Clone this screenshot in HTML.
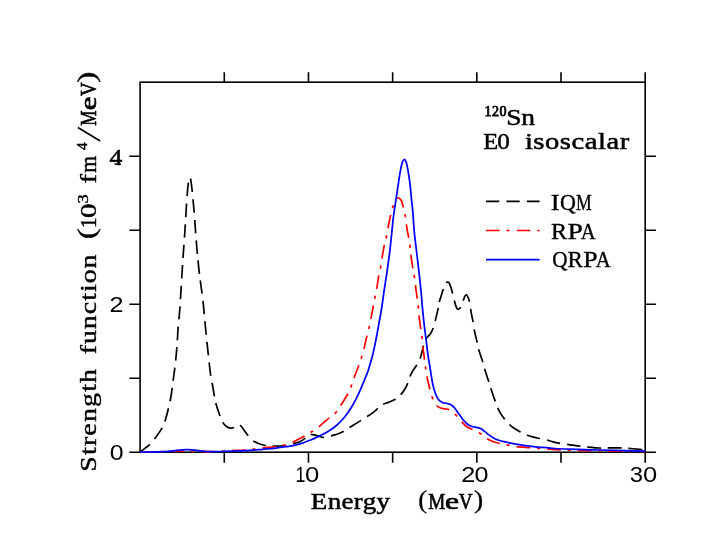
<!DOCTYPE html>
<html><head><meta charset="utf-8"><title>120Sn E0 isoscalar strength function</title>
<style>
html,body{margin:0;padding:0;background:#fff;}
body{width:715px;height:553px;overflow:hidden;}
svg{display:block;will-change:transform;}
text{font-family:"Liberation Serif",serif;fill:#000;white-space:pre;}
</style></head>
<body>
<svg width="715" height="553" viewBox="0 0 715 553">
<rect x="0" y="0" width="715" height="553" fill="#fff"/>
<rect x="140.1" y="82.2" width="505.10" height="370.00" fill="none" stroke="#000" stroke-width="1.6"/>
<path d="M224.28 82.2 v-10.0 M224.28 452.2 v10.5 M308.47 82.2 v-10.0 M308.47 452.2 v10.5 M392.65 82.2 v-10.0 M392.65 452.2 v10.5 M476.83 82.2 v-10.0 M476.83 452.2 v10.5 M561.02 82.2 v-10.0 M561.02 452.2 v10.5 M645.20 82.2 v-10.0 M645.20 452.2 v10.5 M140.1 452.20 h-10.7 M645.2 452.20 h10.7 M140.1 378.20 h-10.7 M645.2 378.20 h10.7 M140.1 304.20 h-10.7 M645.2 304.20 h10.7 M140.1 230.20 h-10.7 M645.2 230.20 h10.7 M140.1 156.20 h-10.7 M645.2 156.20 h10.7" fill="none" stroke="#000" stroke-width="1.6"/>
<path d="M140.20 451.80C141.83 450.55 147.37 446.77 150.00 444.30C152.63 441.83 154.00 439.68 156.00 437.00C158.00 434.32 160.42 431.13 162.00 428.20C163.58 425.27 164.40 422.82 165.50 419.40C166.60 415.98 167.65 411.77 168.60 407.70C169.55 403.63 170.40 399.87 171.20 395.00C172.00 390.13 172.72 383.67 173.40 378.50C174.08 373.33 174.72 369.27 175.30 364.00C175.88 358.73 176.42 353.13 176.90 346.90C177.38 340.67 177.75 332.42 178.20 326.60C178.65 320.78 179.13 318.10 179.60 312.00C180.07 305.90 180.52 297.67 181.00 290.00C181.48 282.33 182.02 273.50 182.50 266.00C182.98 258.50 183.43 251.83 183.90 245.00C184.37 238.17 184.87 231.77 185.30 225.00C185.73 218.23 186.12 210.23 186.50 204.40C186.88 198.57 187.25 193.90 187.60 190.00C187.95 186.10 188.27 183.12 188.60 181.00C188.93 178.88 189.27 177.63 189.60 177.30C189.93 176.97 190.27 177.55 190.60 179.00C190.93 180.45 191.27 183.33 191.60 186.00C191.93 188.67 192.17 190.50 192.60 195.00C193.03 199.50 193.75 207.50 194.20 213.00C194.65 218.50 194.90 222.67 195.30 228.00C195.70 233.33 196.15 239.60 196.60 245.00C197.05 250.40 197.53 255.62 198.00 260.40C198.47 265.18 198.90 269.43 199.40 273.70C199.90 277.97 200.42 281.60 201.00 286.00C201.58 290.40 202.32 294.93 202.90 300.10C203.48 305.27 203.95 311.18 204.50 317.00C205.05 322.82 205.67 329.67 206.20 335.00C206.73 340.33 207.20 344.33 207.70 349.00C208.20 353.67 208.68 358.47 209.20 363.00C209.72 367.53 210.28 372.70 210.80 376.20C211.32 379.70 211.72 380.77 212.30 384.00C212.88 387.23 213.65 392.18 214.30 395.60C214.95 399.02 215.38 401.47 216.20 404.50C217.02 407.53 218.15 410.88 219.20 413.80C220.25 416.72 221.28 419.88 222.50 422.00C223.72 424.12 225.17 425.48 226.50 426.50C227.83 427.52 229.33 427.93 230.50 428.10C231.67 428.27 232.53 427.92 233.50 427.50C234.47 427.08 235.47 426.05 236.30 425.60C237.13 425.15 237.80 424.80 238.50 424.80C239.20 424.80 239.85 425.10 240.50 425.60C241.15 426.10 241.65 426.82 242.40 427.80C243.15 428.78 244.07 430.22 245.00 431.50C245.93 432.78 246.68 433.98 248.00 435.50C249.32 437.02 251.03 439.22 252.90 440.60C254.77 441.98 257.10 442.98 259.20 443.80C261.30 444.62 263.37 445.13 265.50 445.50C267.63 445.87 269.80 445.92 272.00 446.00C274.20 446.08 276.53 446.05 278.70 446.00C280.87 445.95 282.67 446.07 285.00 445.70C287.33 445.33 290.25 444.47 292.70 443.80C295.15 443.13 297.72 442.55 299.70 441.70C301.68 440.85 303.30 439.73 304.60 438.70C305.90 437.67 306.65 436.23 307.50 435.50C308.35 434.77 308.62 434.42 309.70 434.30C310.78 434.18 312.45 434.47 314.00 434.80C315.55 435.13 317.38 435.88 319.00 436.30C320.62 436.72 321.75 437.37 323.70 437.30C325.65 437.23 328.48 436.40 330.70 435.90C332.92 435.40 334.90 435.03 337.00 434.30C339.10 433.57 341.22 432.62 343.30 431.50C345.38 430.38 347.53 428.83 349.50 427.60C351.47 426.37 353.23 425.27 355.10 424.10C356.97 422.93 358.83 421.77 360.70 420.60C362.57 419.43 364.32 418.38 366.30 417.10C368.28 415.82 370.73 414.30 372.60 412.90C374.47 411.50 375.85 410.08 377.50 408.70C379.15 407.32 380.58 405.70 382.50 404.60C384.42 403.50 386.87 402.98 389.00 402.10C391.13 401.22 393.38 400.48 395.30 399.30C397.22 398.12 398.87 396.77 400.50 395.00C402.13 393.23 403.87 390.72 405.10 388.70C406.33 386.68 407.15 384.78 407.90 382.90C408.65 381.02 408.83 379.32 409.60 377.40C410.37 375.48 411.42 373.30 412.50 371.40C413.58 369.50 414.88 368.00 416.10 366.00C417.32 364.00 418.83 361.67 419.80 359.40C420.77 357.13 421.32 354.55 421.90 352.40C422.48 350.25 422.68 348.72 423.30 346.50C423.92 344.28 424.43 341.20 425.60 339.10C426.77 337.00 429.08 335.62 430.30 333.90C431.52 332.18 432.12 330.82 432.90 328.80C433.68 326.78 434.37 324.12 435.00 321.80C435.63 319.48 436.18 317.10 436.70 314.90C437.22 312.70 437.67 310.75 438.10 308.60C438.53 306.45 438.77 304.18 439.30 302.00C439.83 299.82 440.63 297.67 441.30 295.50C441.97 293.33 442.72 290.75 443.30 289.00C443.88 287.25 444.32 286.03 444.80 285.00C445.28 283.97 445.77 283.27 446.20 282.80C446.63 282.33 447.00 282.27 447.40 282.20C447.80 282.13 448.20 282.05 448.60 282.40C449.00 282.75 449.35 283.27 449.80 284.30C450.25 285.33 450.85 287.10 451.30 288.60C451.75 290.10 452.02 291.42 452.50 293.30C452.98 295.18 453.68 297.90 454.20 299.90C454.72 301.90 455.17 303.92 455.60 305.30C456.03 306.68 456.37 307.53 456.80 308.20C457.23 308.87 457.73 309.23 458.20 309.30C458.67 309.37 459.18 308.97 459.60 308.60C460.02 308.23 460.30 307.87 460.70 307.10C461.10 306.33 461.55 305.15 462.00 304.00C462.45 302.85 462.90 301.55 463.40 300.20C463.90 298.85 464.48 296.80 465.00 295.90C465.52 295.00 466.02 294.62 466.50 294.80C466.98 294.98 467.42 295.92 467.90 297.00C468.38 298.08 468.97 299.42 469.40 301.30C469.83 303.18 470.13 306.03 470.50 308.30C470.87 310.57 471.18 312.72 471.60 314.90C472.02 317.08 472.60 319.15 473.00 321.40C473.40 323.65 473.60 326.12 474.00 328.40C474.40 330.68 474.92 332.95 475.40 335.10C475.88 337.25 476.42 339.10 476.90 341.30C477.38 343.50 477.37 344.97 478.30 348.30C479.23 351.63 481.50 358.03 482.50 361.30C483.50 364.57 483.30 364.63 484.30 367.90C485.30 371.17 487.45 377.58 488.50 380.90C489.55 384.22 489.55 384.60 490.60 387.80C491.65 391.00 493.68 396.95 494.80 400.10C495.92 403.25 496.37 404.53 497.30 406.70C498.23 408.87 499.23 411.10 500.40 413.10C501.57 415.10 502.95 416.95 504.30 418.70C505.65 420.45 506.93 422.05 508.50 423.60C510.07 425.15 511.78 426.65 513.70 428.00C515.62 429.35 517.90 430.57 520.00 431.70C522.10 432.83 524.20 433.93 526.30 434.80C528.40 435.67 530.52 436.32 532.60 436.90C534.68 437.48 536.60 437.83 538.80 438.30C541.00 438.77 543.58 439.17 545.80 439.70C548.02 440.23 549.93 440.93 552.10 441.50C554.27 442.07 556.57 442.68 558.80 443.10C561.03 443.52 563.23 443.65 565.50 444.00C567.77 444.35 570.17 444.87 572.40 445.20C574.63 445.53 576.53 445.72 578.90 446.00C581.27 446.28 583.22 446.57 586.60 446.90C589.98 447.23 595.82 447.83 599.20 448.00C602.58 448.17 603.53 447.92 606.90 447.90C610.27 447.88 616.03 447.83 619.40 447.90C622.77 447.97 623.72 448.07 627.10 448.30C630.48 448.53 636.68 449.02 639.70 449.30C642.72 449.58 644.28 449.88 645.20 450.00" fill="none" stroke="#000" stroke-width="1.7" stroke-dasharray="12.29 7.07 13.5 7.12 13.5 7.2 13.5 7.01 13.5 7.13 13.5 6.96 13.5 7.17 13.5 6.87 13.5 7.13 13.5 6.91 13.5 7.11 13.5 7.08 13.5 7.44 13.5 7.36 13.5 7.31 13.5 7.18 13.5 6.96 13.5 6.66 13.5 6.76 13.5 7.08 13.5 7.01 13.5 7.18 13.5 7.2 13.5 7.25 13.5 6.91 13.5 6.99 13.5 6.81 13.5 7.01 13.5 6.91 13.5 7.14 13.5 7.17 13.5 7.1 13.5 7.01 13.5 7.08 13.5 6.84 13.5 6.84 13.5 7.11 13.5 7.03 13.5 7.02 13.5 7.15 13.5 5.79 13.7 6.84 14.6 6.95 13.5 6.81 14.8 7.26 13.5 7.17 13.5 7.06 13.5 6.94 13.5 6.94 13.5 7.1 13.5 7.03 13.5 6.99 13.5 7.14 13.5 7.13 13.5 6.94 13.5 7.07 13.5 7.19 13.5 1000" stroke-linejoin="round"/>
<path d="M140.20 452.00C144.33 451.93 157.20 451.73 165.00 451.60C172.80 451.47 179.50 451.20 187.00 451.20C194.50 451.20 202.67 451.70 210.00 451.60C217.33 451.50 225.33 450.87 231.00 450.60C236.67 450.33 240.17 450.23 244.00 450.00C247.83 449.77 250.87 449.53 254.00 449.20C257.13 448.87 259.23 448.42 262.80 448.00C266.37 447.58 271.93 447.13 275.40 446.70C278.87 446.27 280.67 446.18 283.60 445.40C286.53 444.62 289.65 443.50 293.00 442.00C296.35 440.50 300.78 437.98 303.70 436.40C306.62 434.82 307.98 434.08 310.50 432.50C313.02 430.92 315.67 429.35 318.80 426.90C321.93 424.45 326.50 420.13 329.30 417.80C332.10 415.47 333.73 414.88 335.60 412.90C337.47 410.92 338.42 409.17 340.50 405.90C342.58 402.63 346.28 396.68 348.10 393.30C349.92 389.92 350.40 388.20 351.40 385.60C352.40 383.00 352.83 381.12 354.10 377.70C355.37 374.28 357.77 368.48 359.00 365.10C360.23 361.72 360.68 360.07 361.50 357.40C362.32 354.73 362.97 352.82 363.90 349.10C364.83 345.38 366.23 338.72 367.10 335.10C367.97 331.48 368.47 330.08 369.10 327.40C369.73 324.72 370.20 322.57 370.90 319.00C371.60 315.43 372.63 309.53 373.30 306.00C373.97 302.47 374.33 300.68 374.90 297.80C375.47 294.92 376.05 292.42 376.70 288.70C377.35 284.98 378.15 279.10 378.80 275.50C379.45 271.90 380.08 269.90 380.60 267.10C381.12 264.30 381.22 262.67 381.90 258.70C382.58 254.73 383.93 247.03 384.70 243.30C385.47 239.57 385.95 238.85 386.50 236.30C387.05 233.75 387.33 231.43 388.00 228.00C388.67 224.57 389.68 219.25 390.50 215.70C391.32 212.15 391.95 209.48 392.90 206.70C393.85 203.92 395.28 200.45 396.20 199.00C397.12 197.55 397.55 197.75 398.40 198.00C399.25 198.25 400.45 198.88 401.30 200.50C402.15 202.12 402.85 205.17 403.50 207.70C404.15 210.23 404.72 212.92 405.20 215.70C405.68 218.48 406.03 221.85 406.40 224.40C406.77 226.95 407.00 228.67 407.40 231.00C407.80 233.33 408.37 235.77 408.80 238.40C409.23 241.03 409.65 244.00 410.00 246.80C410.35 249.60 410.40 251.47 410.90 255.20C411.40 258.93 412.42 265.58 413.00 269.20C413.58 272.82 414.00 274.23 414.40 276.90C414.80 279.57 414.93 281.60 415.40 285.20C415.87 288.80 416.73 295.00 417.20 298.50C417.67 302.00 417.93 303.48 418.20 306.20C418.47 308.92 418.30 310.57 418.80 314.80C419.30 319.03 420.63 327.68 421.20 331.60C421.77 335.52 421.97 335.97 422.20 338.30C422.43 340.63 422.18 341.83 422.60 345.60C423.02 349.37 424.17 356.95 424.70 360.90C425.23 364.85 425.45 366.73 425.80 369.30C426.15 371.87 426.28 373.68 426.80 376.30C427.32 378.92 428.37 382.72 428.90 385.00C429.43 387.28 429.38 387.77 430.00 390.00C430.62 392.23 431.47 395.78 432.60 398.40C433.73 401.02 435.45 404.10 436.80 405.70C438.15 407.30 439.30 407.48 440.70 408.00C442.10 408.52 443.75 408.48 445.20 408.80C446.65 409.12 447.58 408.82 449.40 409.90C451.22 410.98 454.10 413.38 456.10 415.30C458.10 417.22 459.67 419.53 461.40 421.40C463.13 423.27 464.63 425.13 466.50 426.50C468.37 427.87 470.27 428.40 472.60 429.60C474.93 430.80 478.07 432.17 480.50 433.70C482.93 435.23 485.12 437.50 487.20 438.80C489.28 440.10 490.95 440.72 493.00 441.50C495.05 442.28 497.00 442.88 499.50 443.50C502.00 444.12 505.17 444.68 508.00 445.20C510.83 445.72 512.87 446.20 516.50 446.60C520.13 447.00 526.08 447.32 529.80 447.60C533.52 447.88 536.02 448.07 538.80 448.30C541.58 448.53 542.88 448.73 546.50 449.00C550.12 449.27 553.25 449.63 560.50 449.90C567.75 450.17 575.88 450.32 590.00 450.60C604.12 450.88 636.00 451.43 645.20 451.60" fill="none" stroke="#f00" stroke-width="1.7" stroke-dasharray="12.95 6.9 3.2 7.05 13.6 6.9 3.2 7.05 13.6 6.9 3.2 7.05 13.6 6.9 3.2 7.05 13.6 6.9 3.2 7.05 13.6 6.9 3.2 7.11 13.6 6.9 3.2 6.99 13.6 6.9 3.2 6.9 13.6 6.9 3.2 7.08 13.6 6.9 3.2 7.09 13.6 6.9 3.2 6.96 13.6 6.9 3.2 7.14 13.6 6.9 3.2 7.12 13.6 6.9 3.2 7.12 13.6 6.9 3.2 7.09 13.6 6.9 3.2 6.96 13.6 6.9 3.2 7.01 13.6 6.9 3.2 6.97 13.6 6.9 3.2 7 13.6 6.9 3.2 6.99 13.6 6.9 3.2 7.31 13.6 6.9 3.2 7.2 13.6 6.9 3.2 7.02 13.6 6.9 3.2 7 13.6 6.9 3.2 7.12 13.6 6.9 3.2 7.05 13.6 6.9 3.2 7.05 13.6 6.9 3.2 7.05 5.97 1000" stroke-linejoin="round"/>
<path d="M140.20 452.20C144.17 452.12 158.17 451.95 164.00 451.70C169.83 451.45 172.17 451.02 175.20 450.70C178.23 450.38 180.23 450.00 182.20 449.80C184.17 449.60 185.37 449.50 187.00 449.50C188.63 449.50 190.00 449.60 192.00 449.80C194.00 450.00 196.22 450.40 199.00 450.70C201.78 451.00 205.20 451.47 208.70 451.60C212.20 451.73 215.45 451.60 220.00 451.50C224.55 451.40 231.00 451.18 236.00 451.00C241.00 450.82 245.53 450.68 250.00 450.40C254.47 450.12 258.47 449.68 262.80 449.30C267.13 448.92 271.80 448.58 276.00 448.10C280.20 447.62 284.78 446.88 288.00 446.40C291.22 445.92 292.88 445.73 295.30 445.20C297.72 444.67 300.08 444.02 302.50 443.20C304.92 442.38 307.63 441.18 309.80 440.30C311.97 439.42 313.30 438.90 315.50 437.90C317.70 436.90 320.58 435.57 323.00 434.30C325.42 433.03 327.67 431.85 330.00 430.30C332.33 428.75 334.67 427.08 337.00 425.00C339.33 422.92 341.67 420.63 344.00 417.80C346.33 414.97 348.92 411.27 351.00 408.00C353.08 404.73 354.88 401.35 356.50 398.20C358.12 395.05 359.45 391.97 360.70 389.10C361.95 386.23 362.77 384.07 364.00 381.00C365.23 377.93 366.67 374.98 368.10 370.70C369.53 366.42 371.30 360.42 372.60 355.30C373.90 350.18 374.83 345.35 375.90 340.00C376.97 334.65 377.98 328.87 379.00 323.20C380.02 317.53 381.10 311.75 382.00 306.00C382.90 300.25 383.53 294.60 384.40 288.70C385.27 282.80 386.27 277.12 387.20 270.60C388.13 264.08 389.20 256.28 390.00 249.60C390.80 242.92 391.43 235.92 392.00 230.50C392.57 225.08 392.82 221.73 393.40 217.10C393.98 212.47 394.78 207.52 395.50 202.70C396.22 197.88 396.97 193.03 397.70 188.20C398.43 183.37 399.18 177.80 399.90 173.70C400.62 169.60 401.28 165.97 402.00 163.60C402.72 161.23 403.47 159.62 404.20 159.50C404.93 159.38 405.72 160.77 406.40 162.90C407.08 165.03 407.70 168.82 408.30 172.30C408.90 175.78 409.48 179.47 410.00 183.80C410.52 188.13 410.92 193.47 411.40 198.30C411.88 203.13 412.43 207.35 412.90 212.80C413.37 218.25 413.60 224.63 414.20 231.00C414.80 237.37 415.65 243.70 416.50 251.00C417.35 258.30 418.52 267.82 419.30 274.80C420.08 281.78 420.70 287.70 421.20 292.90C421.70 298.10 421.83 300.95 422.30 306.00C422.77 311.05 423.38 317.70 424.00 323.20C424.62 328.70 425.33 333.65 426.00 339.00C426.67 344.35 427.33 350.55 428.00 355.30C428.67 360.05 429.33 363.38 430.00 367.50C430.67 371.62 431.45 376.83 432.00 380.00C432.55 383.17 432.85 384.62 433.30 386.50C433.75 388.38 434.12 389.58 434.70 391.30C435.28 393.02 435.98 395.23 436.80 396.80C437.62 398.37 438.58 399.72 439.60 400.70C440.62 401.68 441.60 402.23 442.90 402.70C444.20 403.17 446.00 403.13 447.40 403.50C448.80 403.87 450.08 404.15 451.30 404.90C452.52 405.65 453.48 406.55 454.70 408.00C455.92 409.45 457.20 411.65 458.60 413.60C460.00 415.55 461.60 417.93 463.10 419.70C464.60 421.47 466.10 423.07 467.60 424.20C469.10 425.33 470.62 425.97 472.10 426.50C473.58 427.03 475.10 427.07 476.50 427.40C477.90 427.73 479.15 427.83 480.50 428.50C481.85 429.17 483.20 430.33 484.60 431.40C486.00 432.47 487.33 433.77 488.90 434.90C490.47 436.03 492.23 437.27 494.00 438.20C495.77 439.13 497.67 439.90 499.50 440.50C501.33 441.10 502.75 441.28 505.00 441.80C507.25 442.32 509.33 442.92 513.00 443.60C516.67 444.28 522.33 445.28 527.00 445.90C531.67 446.52 536.33 446.87 541.00 447.30C545.67 447.73 550.33 448.18 555.00 448.50C559.67 448.82 564.00 449.00 569.00 449.20C574.00 449.40 579.50 449.57 585.00 449.70C590.50 449.83 595.33 449.85 602.00 450.00C608.67 450.15 617.80 450.40 625.00 450.60C632.20 450.80 641.83 451.10 645.20 451.20" fill="none" stroke="#00f" stroke-width="1.75" stroke-linejoin="round"/>
<path d="M486 201.4 H539.6" fill="none" stroke="#000" stroke-width="1.7" stroke-dasharray="13.3 7.1"/>
<path d="M486 230.5 H539.6" fill="none" stroke="#f00" stroke-width="1.7" stroke-dasharray="13.6 6.9 3.2 7.05"/>
<path d="M486 259.6 H539.6" fill="none" stroke="#00f" stroke-width="1.75"/>
<text transform="translate(524.90 148.8) scale(1.25 1)" style="font-family:&quot;Liberation Serif&quot;,serif;font-weight:normal" font-size="22.9" letter-spacing="0.421" stroke="#000" stroke-width="0.5">isoscalar</text>
<text transform="translate(506.36 124.6) scale(1.2 1)" style="font-family:&quot;Liberation Serif&quot;,serif;font-weight:normal" font-size="22.9" letter-spacing="-0.307" stroke="#000" stroke-width="0.5">Sn</text>
<text transform="translate(484.56 115.8) scale(1.0 1)" style="font-family:&quot;Liberation Serif&quot;,serif;font-weight:normal" font-size="14.1" letter-spacing="0.413" stroke="#000" stroke-width="0.75">120</text>
<text transform="translate(483.19 148.8) scale(1.075 1)" style="font-family:&quot;Liberation Serif&quot;,serif;font-weight:normal" font-size="22.9" stroke="#000" stroke-width="0.45">E</text>
<text transform="translate(497.24 148.8) scale(1.102 1)" style="font-family:&quot;Liberation Serif&quot;,serif;font-weight:normal" font-size="22.9" stroke="#000" stroke-width="0.45">0</text>
<text transform="translate(550.83 209.75) scale(1.168 1)" style="font-family:&quot;Liberation Serif&quot;,serif;font-weight:normal" font-size="22.9" stroke="#000" stroke-width="0.35">I</text>
<text transform="translate(560.00 209.75) scale(0.960 1)" style="font-family:&quot;Liberation Serif&quot;,serif;font-weight:normal" font-size="22.9" stroke="#000" stroke-width="0.35">Q</text>
<text transform="translate(576.09 209.75) scale(0.772 1)" style="font-family:&quot;Liberation Serif&quot;,serif;font-weight:normal" font-size="22.9" stroke="#000" stroke-width="0.35">M</text>
<text transform="translate(551.10 239.1) scale(1.056 1)" style="font-family:&quot;Liberation Serif&quot;,serif;font-weight:normal" font-size="22.9" stroke="#000" stroke-width="0.35">R</text>
<text transform="translate(567.41 239.1) scale(1.201 1)" style="font-family:&quot;Liberation Serif&quot;,serif;font-weight:normal" font-size="22.9" stroke="#000" stroke-width="0.35">P</text>
<text transform="translate(580.70 239.1) scale(0.904 1)" style="font-family:&quot;Liberation Serif&quot;,serif;font-weight:normal" font-size="22.9" stroke="#000" stroke-width="0.35">A</text>
<text transform="translate(552.23 267.4) scale(0.927 1)" style="font-family:&quot;Liberation Serif&quot;,serif;font-weight:normal" font-size="22.9" stroke="#000" stroke-width="0.35">Q</text>
<text transform="translate(567.53 267.4) scale(1.008 1)" style="font-family:&quot;Liberation Serif&quot;,serif;font-weight:normal" font-size="22.9" stroke="#000" stroke-width="0.35">R</text>
<text transform="translate(583.16 267.4) scale(1.120 1)" style="font-family:&quot;Liberation Serif&quot;,serif;font-weight:normal" font-size="22.9" stroke="#000" stroke-width="0.35">P</text>
<text transform="translate(595.80 267.4) scale(0.904 1)" style="font-family:&quot;Liberation Serif&quot;,serif;font-weight:normal" font-size="22.9" stroke="#000" stroke-width="0.35">A</text>
<text transform="translate(310.82 508.7) scale(1.18 1)" style="font-family:&quot;Liberation Serif&quot;,serif;font-weight:normal" font-size="22.9" letter-spacing="0.280" stroke="#000" stroke-width="0.5">Energy</text>
<text transform="translate(428.15 508.6) scale(0.835 1)" style="font-family:&quot;Liberation Serif&quot;,serif;font-weight:normal" font-size="22.9" stroke="#000" stroke-width="0.7">M</text>
<text transform="translate(445.07 508.6) scale(1.380 1)" style="font-family:&quot;Liberation Serif&quot;,serif;font-weight:normal" font-size="22.9" stroke="#000" stroke-width="0.7">e</text>
<text transform="translate(458.68 508.6) scale(0.836 1)" style="font-family:&quot;Liberation Serif&quot;,serif;font-weight:normal" font-size="22.9" stroke="#000" stroke-width="0.7">V</text>
<text transform="translate(418.24 507.6) scale(1.081 1)" style="font-family:&quot;Liberation Serif&quot;,serif;font-weight:normal" font-size="24.5" stroke="#000" stroke-width="0.3">(</text>
<text transform="translate(473.91 507.6) scale(1.128 1)" style="font-family:&quot;Liberation Serif&quot;,serif;font-weight:normal" font-size="24.5" stroke="#000" stroke-width="0.3">)</text>
<text transform="translate(295.54 482.1) scale(0.790 1)" style="font-family:&quot;Liberation Sans&quot;,sans-serif;font-weight:normal" font-size="22.6" stroke="#000" stroke-width="0">1</text>
<text transform="translate(304.99 482.1) scale(1.139 1)" style="font-family:&quot;Liberation Sans&quot;,sans-serif;font-weight:normal" font-size="22.6" stroke="#000" stroke-width="0">0</text>
<text transform="translate(461.13 482.1) scale(1.117 1)" style="font-family:&quot;Liberation Sans&quot;,sans-serif;font-weight:normal" font-size="22.6" stroke="#000" stroke-width="0">2</text>
<text transform="translate(474.62 482.1) scale(1.111 1)" style="font-family:&quot;Liberation Sans&quot;,sans-serif;font-weight:normal" font-size="22.6" stroke="#000" stroke-width="0">0</text>
<text transform="translate(629.79 482.1) scale(1.055 1)" style="font-family:&quot;Liberation Sans&quot;,sans-serif;font-weight:normal" font-size="22.6" stroke="#000" stroke-width="0">3</text>
<text transform="translate(642.90 482.1) scale(1.129 1)" style="font-family:&quot;Liberation Sans&quot;,sans-serif;font-weight:normal" font-size="22.6" stroke="#000" stroke-width="0">0</text>
<text transform="translate(109.83 460.1) scale(1.102 1)" style="font-family:&quot;Liberation Sans&quot;,sans-serif;font-weight:normal" font-size="22.6" stroke="#000" stroke-width="0">0</text>
<text transform="translate(109.59 312.4) scale(1.112 1)" style="font-family:&quot;Liberation Sans&quot;,sans-serif;font-weight:normal" font-size="22.6" stroke="#000" stroke-width="0">2</text>
<text transform="translate(109.50 164.6) scale(1.085 1)" style="font-family:&quot;Liberation Serif&quot;,serif;font-weight:normal" font-size="23.6" stroke="#000" stroke-width="0.55">4</text>
<rect x="114.4" y="163.3" width="6.6" height="1.5" fill="#000"/>
<text transform="translate(96.3 471.72) rotate(-90) scale(1.22 1)" style="font-family:&quot;Liberation Serif&quot;,serif;font-weight:normal" font-size="22.9" letter-spacing="0.950" stroke="#000" stroke-width="0.4">Strength</text>
<text transform="translate(96.3 354.36) rotate(-90) scale(1.22 1)" style="font-family:&quot;Liberation Serif&quot;,serif;font-weight:normal" font-size="22.9" letter-spacing="0.805" stroke="#000" stroke-width="0.4">function</text>
<text transform="translate(96.3 228.30) rotate(-90) scale(0.943 1)" style="font-family:&quot;Liberation Serif&quot;,serif;font-weight:normal" font-size="22.9" stroke="#000" stroke-width="0.45">1</text>
<text transform="translate(96.3 218.01) rotate(-90) scale(1.267 1)" style="font-family:&quot;Liberation Serif&quot;,serif;font-weight:normal" font-size="22.9" stroke="#000" stroke-width="0.45">0</text>
<text transform="translate(95.3 239.27) rotate(-90) scale(1.367 1)" style="font-family:&quot;Liberation Serif&quot;,serif;font-weight:normal" font-size="24.5" stroke="#000" stroke-width="0.3">(</text>
<text transform="translate(88.0 203.58) rotate(-90) scale(1.243 1)" style="font-family:&quot;Liberation Serif&quot;,serif;font-weight:normal" font-size="14.8" stroke="#000" stroke-width="0.4">3</text>
<text transform="translate(96.3 183.59) rotate(-90) scale(1.257 1)" style="font-family:&quot;Liberation Serif&quot;,serif;font-weight:normal" font-size="22.9" stroke="#000" stroke-width="0.45">f</text>
<text transform="translate(96.3 172.76) rotate(-90) scale(0.954 1)" style="font-family:&quot;Liberation Serif&quot;,serif;font-weight:normal" font-size="22.9" stroke="#000" stroke-width="0.45">m</text>
<text transform="translate(87.3 150.00) rotate(-90) scale(1.032 1)" style="font-family:&quot;Liberation Serif&quot;,serif;font-weight:normal" font-size="14.8" stroke="#000" stroke-width="0.4">4</text>
<text transform="translate(96.3 125.69) rotate(-90) scale(0.746 1)" style="font-family:&quot;Liberation Serif&quot;,serif;font-weight:normal" font-size="22.9" stroke="#000" stroke-width="0.7">M</text>
<text transform="translate(96.3 110.30) rotate(-90) scale(1.345 1)" style="font-family:&quot;Liberation Serif&quot;,serif;font-weight:normal" font-size="22.9" stroke="#000" stroke-width="0.7">e</text>
<text transform="translate(96.3 96.01) rotate(-90) scale(0.830 1)" style="font-family:&quot;Liberation Serif&quot;,serif;font-weight:normal" font-size="22.9" stroke="#000" stroke-width="0.7">V</text>
<text transform="translate(95.3 82.68) rotate(-90) scale(1.367 1)" style="font-family:&quot;Liberation Serif&quot;,serif;font-weight:normal" font-size="24.5" stroke="#000" stroke-width="0.3">)</text>
<path d="M100.2 140.9 L77.9 127.5" fill="none" stroke="#000" stroke-width="1.7"/>
</svg>
</body></html>
